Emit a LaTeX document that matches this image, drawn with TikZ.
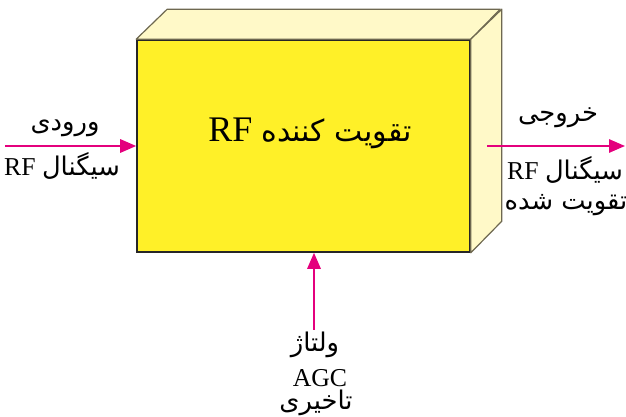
\documentclass[tikz,border=0pt]{standalone}
\usepackage{fontspec}
\setmainfont{Liberation Serif}
\newfontfamily\farsifont[Script=Arabic]{DejaVu Sans}
\TeXXeTstate=1
\usetikzlibrary{positioning,arrows.meta}
\definecolor{ampyellow}{RGB}{255,240,40}
\definecolor{amplight}{RGB}{255,249,200}
\definecolor{ampedge}{RGB}{110,104,80}
\definecolor{sigpink}{RGB}{228,0,125}
\newcommand{\fa}[1]{{\farsifont\beginR #1\endR}}
\newcommand{\farf}[1]{\beginR{\farsifont #1} \beginL RF\endL\endR}
\tikzset{
	front/.style={rectangle,draw=black!85,fill=ampyellow,line width=1.2pt,minimum width=249.75pt,minimum height=159pt,inner sep=0pt},
	side/.style={draw=ampedge,fill=amplight,line width=0.9pt,line join=round},
	sig/.style={-{Triangle[length=12pt,width=10pt]},draw=sigpink,line width=1.5pt},
	lab/.style={inner sep=0pt,font=\fontsize{19.3}{22}\selectfont},
	ttl/.style={inner sep=0pt,font=\fontsize{27}{30}\selectfont}
}
\begin{document}
\begin{tikzpicture}[x=0.75pt,y=-0.75pt]
\useasboundingbox (0,0) rectangle (626,417);
% the amplifier block
\node[front] (amp) at (303.5,146) {};
\draw[side] (amp.north west) -- ++(31,-30) -- ++(333,0) -- (amp.north east) -- cycle;
\draw[side] (amp.north east) -- ++(31,-30) -- ++(0,212) -- (amp.south east) -- cycle;
\node[ttl] (title) at (310,133) {\beginR{\farsifont\fontsize{22.5}{26}\selectfont تقویت کننده} \beginL RF\endL\endR};
% input
\coordinate (in) at (5,146);
\draw[sig] (in) -- (amp.west);
\node[lab] (inTop) at (65,128) {\fa{ورودی}};
\node[lab] (inBot) at (62,166) {\farf{سیگنال}};
% output
\coordinate (outA) at (487,146);
\coordinate (outB) at (625,146);
\draw[sig] (outA) -- (outB);
\node[lab] (outTop) at (558,118) {\fa{خروجی}};
\node[lab] (outMid) at (565,170) {\farf{سیگنال}};
\node[lab] (outBot) at (566,205) {\fa{تقویت شده}};
% agc
\coordinate (agc) at (314,330);
\draw[sig] (agc) -- (agc |- amp.south);
\node[lab] (agcTop) at (315,345) {\fa{ولتاژ}};
\node[lab] (agcMid) at (320,378) {AGC};
\node[lab] (agcBot) at (316,403) {\fa{تاخیری}};
\end{tikzpicture}
\end{document}
